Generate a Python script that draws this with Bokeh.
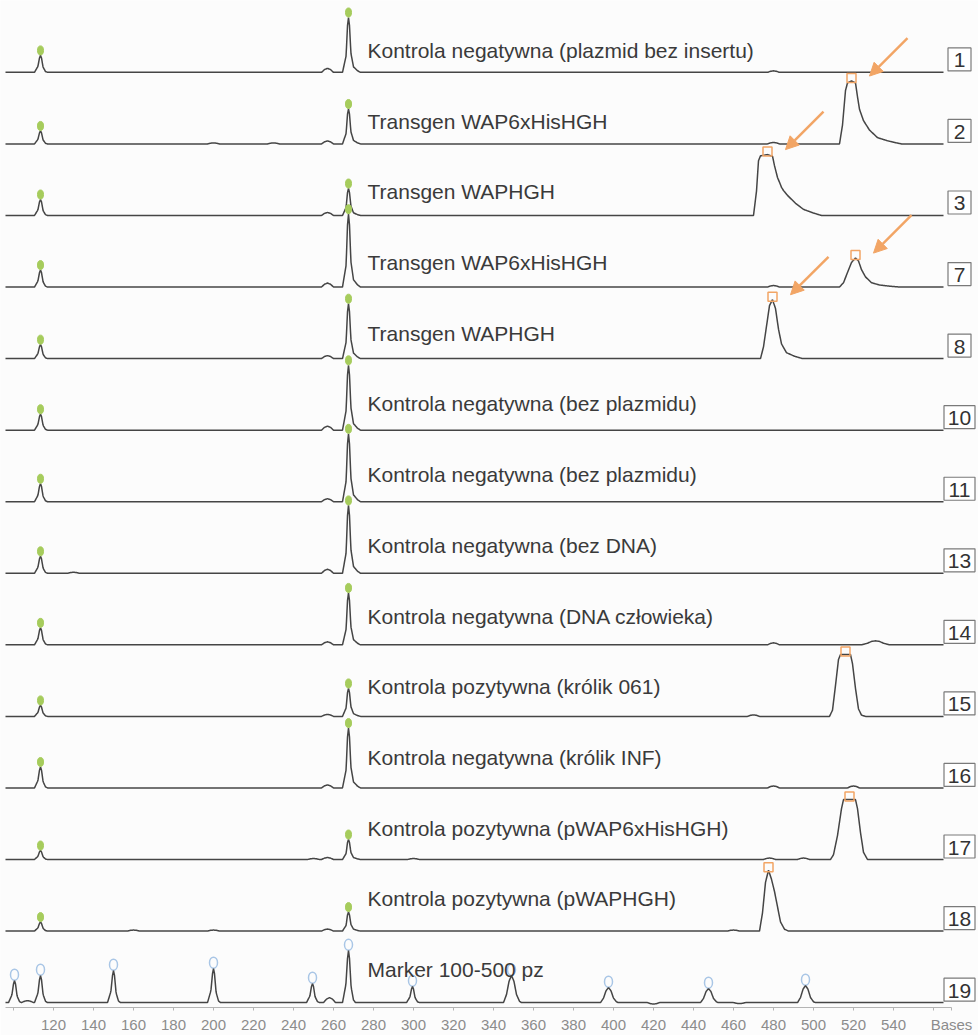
import numpy as np
from bokeh.plotting import figure
from bokeh.models import FixedTicker, Arrow, NormalHead, Range1d
from bokeh.core.properties import value
from bokeh.embed import file_html
from bokeh.resources import INLINE

# ---------------- data ----------------
lanes = ["1", "2", "3", "7", "8", "10", "11", "13", "14", "15", "16", "17", "18", "19"]
lane_labels = [
    "Kontrola negatywna (plazmid bez insertu)",
    "Transgen WAP6xHisHGH",
    "Transgen WAPHGH",
    "Transgen WAP6xHisHGH",
    "Transgen WAPHGH",
    "Kontrola negatywna (bez plazmidu)",
    "Kontrola negatywna (bez plazmidu)",
    "Kontrola negatywna (bez DNA)",
    "Kontrola negatywna (DNA człowieka)",
    "Kontrola pozytywna (królik 061)",
    "Kontrola negatywna (królik INF)",
    "Kontrola pozytywna (pWAP6xHisHGH)",
    "Kontrola pozytywna (pWAPHGH)",
    "Marker 100-500 pz",
]
# internal size-standard peaks (lanes 1..18)
std_pos = [113.5, 267.5]
std_a_height = [17, 13, 16, 17, 14, 16, 18, 17, 17, 11, 21, 9, 9]
std_b_height = [55, 35, 27, 73, 55, 65, 68, 68, 52, 28, 60, 20, 19]
shoulder_pos = 257.0
shoulder_height = [4, 3, 3, 4, 3, 4, 3, 4, 3, 2, 3, 2, 2]
# small extra bumps per lane (position, height)
small_bumps = {
    "1": [(480, 1.5)], "2": [(480, 1.5), (200, 1), (230, 1)], "3": [(482, 1.5)],
    "7": [(480, 1.5)], "8": [], "10": [], "11": [], "13": [(130, 1)],
    "14": [(480, 2)], "15": [(470, 1.5)], "16": [(480, 2), (520, 2)],
    "17": [(250, 1), (300, 1), (478, 1.5), (495, 1.5)], "18": [(160, 1), (200, 1), (460, 1)],
}
broad_bumps = {"14": [(531, 4)]}
# specific (transgene) peaks: lane -> (position, height)
target_peaks = {"2": (519.0, 63), "3": (477.0, 61), "7": (521.0, 29), "8": (479.5, 59),
                "15": (516.0, 62), "17": (518.0, 60), "18": (477.5, 61)}
arrow_lanes = ["2", "3", "7", "8"]
# size marker lane 19
marker_pos = [100.5, 113.5, 150, 200, 249.5, 267.5, 299.5, 349, 397.5, 447.5, 496]
marker_height = [22, 27, 32, 34, 19, 52, 16, 27, 15, 14, 17]
marker_extra = [(258, 5), (107, 2), (420, -1.5), (463, -1)]
# axis
tick_values = list(range(100, 561, 20)) + [569]
tick_label_overrides = {100: "", 560: "", 569: "Bases"}

# ---------------- peak shape templates (offset in bases, fraction of height) -------------
NARROW = ([-3, -1.3, -0.5, 0, 0.5, 1.3, 2.5, 3.5], [0, 0.35, 0.85, 1, 0.85, 0.3, 0.05, 0])
SHARP = ([-3, -1.2, -0.5, 0, 0.5, 1.2, 2.5, 4.5, 6], [0, 0.3, 0.85, 1, 0.85, 0.35, 0.1, 0.03, 0])
BUMP = ([-3, -1.5, 0, 1.5, 3], [0, 0.7, 1, 0.7, 0])
BROAD = ([-7, -4, -2, 0, 2, 4, 7], [0, 0.4, 0.85, 1, 0.85, 0.4, 0])
WIDE = ([-4, -2.5, -1.2, 0, 1.2, 2.5, 4, 5], [0, 0.3, 0.8, 1, 0.8, 0.3, 0.05, 0])
TARGET_SHAPES = {
    "2": ([-6, -4.5, -3, -2, 0, 2, 3, 4, 6, 9, 13, 18, 22, 25],
          [0, 0.3, 0.85, 0.97, 1, 0.97, 0.75, 0.55, 0.37, 0.22, 0.1, 0.05, 0.02, 0]),
    "3": ([-7, -5.5, -4.5, -3.5, 0, 2.5, 3.5, 5, 7, 10, 14, 18, 23, 27],
          [0, 0.4, 0.9, 0.98, 1, 0.97, 0.8, 0.6, 0.45, 0.33, 0.2, 0.1, 0.04, 0]),
    "7": ([-8, -6, -4, -2, 0, 1.5, 3, 5, 8, 12, 17, 22],
          [0, 0.15, 0.5, 0.85, 1, 0.9, 0.6, 0.35, 0.15, 0.07, 0.03, 0]),
    "8": ([-6, -4.5, -3, -1.5, 0, 1.5, 3, 4.5, 7, 11, 15],
          [0, 0.2, 0.55, 0.9, 1, 0.85, 0.5, 0.25, 0.1, 0.04, 0]),
    "15": ([-8, -6.5, -5, -3.5, -2.5, 2.5, 3.5, 5, 6.5, 8, 10],
           [0, 0.1, 0.5, 0.92, 1, 1, 0.85, 0.45, 0.12, 0.02, 0]),
    "17": ([-9.5, -8, -6, -4, -3, 3, 4, 5.5, 7, 9],
           [0, 0.08, 0.4, 0.85, 1, 1, 0.85, 0.45, 0.12, 0]),
    "18": ([-4.5, -3, -1.5, 0, 1.5, 3, 4.5, 6, 8, 10],
           [0, 0.3, 0.8, 1, 0.85, 0.65, 0.4, 0.15, 0.03, 0]),
}

# page geometry: 978 px wide frame = 489 bases (2 px per base), 1 y unit = 1 px
X0, X1 = 93.5, 582.5
TRACE_START, TRACE_END = 96.0, 565.0
grid = np.arange(TRACE_START, TRACE_END + 0.001, 0.25)


def add_peak(y, pos, h, shape):
    tx, ty = shape
    y += np.interp(grid, pos + np.array(tx), h * np.array(ty), left=0, right=0)


LINE = "#454545"
GREEN = "#a6cc5c"
ORANGE = "#f2a565"
BLUE = "#a9c6e6"
BG = "#fcfcfc"

p = figure(width=978, height=1035, output_backend="svg", toolbar_location=None,
           x_range=Range1d(X0, X1), y_range=Range1d(0, 1009),
           min_border_left=0, min_border_right=0, min_border_top=0, min_border_bottom=26,
           background_fill_color=BG, border_fill_color=BG)
p.outline_line_color = None
p.grid.visible = False
p.yaxis.visible = False

n = len(lanes)
base_y = [937 - 71.7 * k for k in range(n)]
label_y = [959 - 70.85 * k for k in range(n)]

dots_x, dots_y = [], []
sq_x, sq_y = [], []
for k, lane in enumerate(lanes):
    y = np.zeros_like(grid)
    if lane != "19":
        add_peak(y, std_pos[0], std_a_height[k], NARROW)
        add_peak(y, std_pos[1], std_b_height[k], SHARP)
        add_peak(y, shoulder_pos, shoulder_height[k], BUMP)
        for bp, bh in small_bumps[lane]:
            add_peak(y, bp, bh, BUMP)
        for bp, bh in broad_bumps.get(lane, []):
            add_peak(y, bp, bh, BROAD)
        dots_x += std_pos
        dots_y += [base_y[k] + std_a_height[k] + 5, base_y[k] + std_b_height[k] + 5]
        if lane in target_peaks:
            tp, th = target_peaks[lane]
            add_peak(y, tp, th, TARGET_SHAPES[lane])
            sq_x.append(tp)
            sq_y.append(base_y[k] + th + 3)
            if lane in arrow_lanes:
                tip_x, tip_y = tp + 9, base_y[k] + th + 5
                p.add_layout(Arrow(end=NormalHead(size=13, fill_color=ORANGE, line_color=ORANGE),
                                   x_start=tip_x + 19, y_start=tip_y + 38, x_end=tip_x, y_end=tip_y,
                                   line_color=ORANGE, line_width=2.5))
    else:
        for mp, mh in zip(marker_pos, marker_height):
            add_peak(y, mp, mh, NARROW if mp < 300 else WIDE)
        for bp, bh in marker_extra:
            add_peak(y, bp, bh, BUMP)
        p.ellipse(x=marker_pos, y=[base_y[k] + h + 6 for h in marker_height], width=8, height=11,
                  width_units="screen", height_units="screen", fill_color=None,
                  line_color=BLUE, line_width=1.5)
    p.line(grid, y + base_y[k], line_color=LINE, line_width=1.5)

p.ellipse(x=dots_x, y=dots_y, width=6, height=9, width_units="screen", height_units="screen",
          fill_color=GREEN, line_color=GREEN)
p.scatter(x=sq_x, y=sq_y, marker="square", size=9, fill_color=None, line_color=ORANGE, line_width=1.5)

# lane labels
p.text(x=[277] * n, y=label_y, text=lane_labels, text_font=value("Liberation Sans"),
       text_font_size="21px", text_baseline="alphabetic", text_align="left", text_color="#3a3a3a")

# lane number boxes
box_w = [23 if len(l) == 1 else 31 for l in lanes]
box_x = [573] * n
box_yc = [b + 13 for b in base_y]
p.rect(x=box_x, y=box_yc, width=box_w, height=23, width_units="screen", height_units="screen",
       fill_color="white", line_color="#7a7a7a", line_width=1.2)
p.text(x=box_x, y=[b - 1 for b in box_yc], text=lanes, text_font=value("Liberation Sans"),
       text_font_size="21px", text_baseline="middle", text_align="center", text_color="#333333")

# x axis
ax = p.xaxis[0]
ax.ticker = FixedTicker(ticks=tick_values)
ax.major_label_overrides = tick_label_overrides
ax.bounds = (TRACE_START, 569)
ax.axis_line_color = "#b4b4b4"
ax.major_tick_line_color = "#b4b4b4"
ax.minor_tick_line_color = None
ax.major_tick_out = 3
ax.major_tick_in = 0
ax.major_label_standoff = 5
ax.major_label_text_font = "Liberation Sans"
ax.major_label_text_font_size = "15px"
ax.major_label_text_color = "#8c8c8c"

open("out.html", "w").write(file_html(p, INLINE))
